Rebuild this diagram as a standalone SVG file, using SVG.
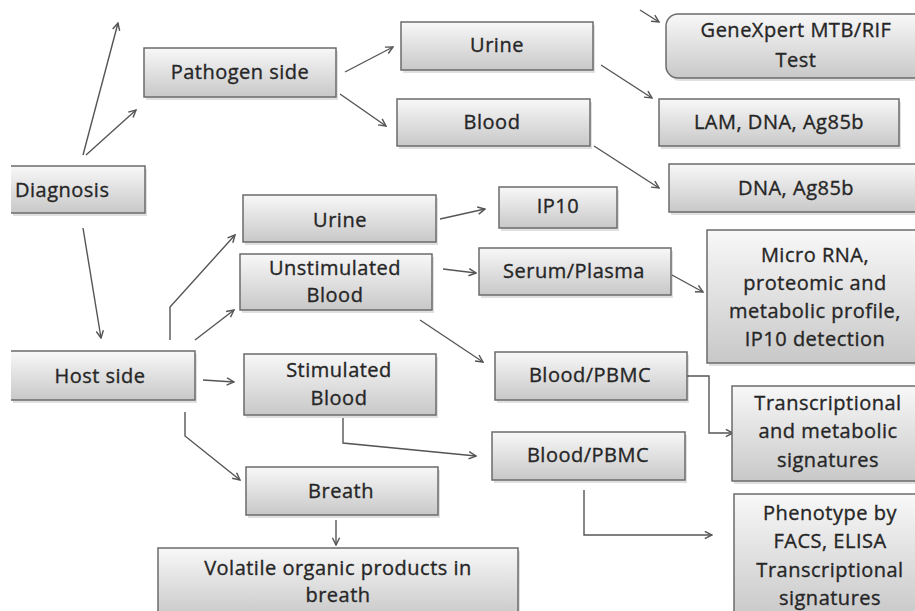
<svg xmlns="http://www.w3.org/2000/svg" width="915" height="611" viewBox="0 0 915 611">
<style>
.bx{fill:url(#g);stroke:#6b6b6b;stroke-width:1.5}
.sh{fill:#000;opacity:0.12}
.nb{fill:url(#g);stroke:none}
.bd{fill:none;stroke:#6b6b6b;stroke-width:1.5}
text{font-family:"Open Sans","Liberation Sans",sans-serif;font-size:20px;fill:#262626;stroke:#262626;stroke-width:0.35;text-anchor:middle;letter-spacing:0.5px}
.c path,.c polyline,.c line{fill:none;stroke:#555;stroke-width:1.4;marker-end:url(#a)}
</style>
<defs>
<linearGradient id="g" x1="0" y1="0" x2="0" y2="1">
<stop offset="0" stop-color="#f8f8f8"/>
<stop offset="1" stop-color="#c8c8c8"/>
</linearGradient>
<marker id="a" viewBox="0 0 10 10" refX="9" refY="5" markerWidth="9" markerHeight="9" markerUnits="userSpaceOnUse" orient="auto">
<path d="M1,1 L9,5 L1,9" fill="none" stroke="#555" stroke-width="1.6"/>
</marker>
</defs>
<rect width="915" height="611" fill="#fff"/>

<g class="c" id="connectors">
<line x1="83" y1="155" x2="118" y2="23"/>
<line x1="86" y1="155" x2="136" y2="110"/>
<line x1="345" y1="72" x2="393" y2="47"/>
<line x1="340" y1="94" x2="386" y2="126"/>
<line x1="640" y1="10" x2="659" y2="22"/>
<line x1="601" y1="65" x2="652" y2="98"/>
<line x1="594" y1="146" x2="659" y2="188"/>
<line x1="83" y1="228" x2="101" y2="338"/>
<polyline points="170,340 170,307 235,235"/>
<line x1="195" y1="340" x2="234" y2="310"/>
<line x1="203" y1="380" x2="234" y2="382"/>
<polyline points="185,412 185,436 240,480"/>
<line x1="336" y1="520" x2="336" y2="545"/>
<line x1="440" y1="219" x2="485" y2="209"/>
<line x1="443" y1="269" x2="476" y2="273"/>
<line x1="672" y1="275" x2="703" y2="292"/>
<line x1="420" y1="320" x2="483" y2="362"/>
<polyline points="687,376 709,376 709,433 733,433"/>
<polyline points="343,418 343,443 476,456"/>
<polyline points="584,490 584,535 712,535"/>
</g>

<g id="n-diagnosis">
<rect class="sh" x="13" y="169" width="134" height="47"/>
<rect class="nb" x="11" y="166" width="134" height="47"/>
<path class="bd" d="M11,166 H145 V213 H11"/>
<text x="15" y="197" style="text-anchor:start">Diagnosis</text>
</g>

<g id="n-pathogen">
<rect class="sh" x="146" y="51" width="192" height="49"/>
<rect class="bx" x="144" y="48" width="192" height="49"/>
<text x="240" y="79">Pathogen side</text>
</g>

<g id="n-p-urine">
<rect class="sh" x="403" y="25" width="192" height="48"/>
<rect class="bx" x="401" y="22" width="192" height="48"/>
<text x="497" y="52">Urine</text>
</g>

<g id="n-p-blood">
<rect class="sh" x="399" y="102" width="193" height="47"/>
<rect class="bx" x="397" y="99" width="193" height="47"/>
<text x="492" y="129">Blood</text>
</g>

<g id="n-genexpert">
<rect class="sh" x="668" y="17" width="270" height="64" rx="12"/>
<rect class="bx" x="666" y="14" width="270" height="64" rx="12"/>
<text x="796" y="37">GeneXpert MTB/RIF</text>
<text x="796" y="67">Test</text>
</g>

<g id="n-lam">
<rect class="sh" x="661" y="102" width="240" height="47"/>
<rect class="bx" x="659" y="99" width="240" height="47"/>
<text x="779" y="129">LAM, DNA, Ag85b</text>
</g>

<g id="n-dna">
<rect class="sh" x="671" y="167" width="260" height="48"/>
<rect class="bx" x="669" y="164" width="260" height="48"/>
<text x="796" y="195">DNA, Ag85b</text>
</g>

<g id="n-h-urine">
<rect class="sh" x="245" y="198" width="193" height="47"/>
<rect class="bx" x="243" y="195" width="193" height="47"/>
<text x="340" y="227">Urine</text>
</g>

<g id="n-ip10">
<rect class="sh" x="501" y="190" width="118" height="41"/>
<rect class="bx" x="499" y="187" width="118" height="41"/>
<text x="558" y="213">IP10</text>
</g>

<g id="n-unstim">
<rect class="sh" x="242" y="257" width="192" height="56"/>
<rect class="bx" x="240" y="254" width="192" height="56"/>
<text x="335" y="275">Unstimulated</text>
<text x="335" y="302">Blood</text>
</g>

<g id="n-serum">
<rect class="sh" x="481" y="251" width="192" height="47"/>
<rect class="bx" x="479" y="248" width="192" height="47"/>
<text x="574" y="278">Serum/Plasma</text>
</g>

<g id="n-microrna">
<rect class="sh" x="709" y="233" width="230" height="133"/>
<rect class="bx" x="707" y="230" width="230" height="133"/>
<text x="815" y="262">Micro RNA,</text>
<text x="815" y="290">proteomic and</text>
<text x="815" y="318">metabolic profile,</text>
<text x="815" y="346">IP10 detection</text>
</g>

<g id="n-host">
<rect class="sh" x="13" y="354" width="184" height="49"/>
<rect class="nb" x="11" y="351" width="184" height="49"/>
<path class="bd" d="M11,351 H195 V400 H11"/>
<text x="100" y="383">Host side</text>
</g>

<g id="n-stim">
<rect class="sh" x="246" y="357" width="192" height="61"/>
<rect class="bx" x="244" y="354" width="192" height="61"/>
<text x="339" y="377">Stimulated</text>
<text x="339" y="405">Blood</text>
</g>

<g id="n-pbmc1">
<rect class="sh" x="497" y="355" width="192" height="48"/>
<rect class="bx" x="495" y="352" width="192" height="48"/>
<text x="590" y="382">Blood/PBMC</text>
</g>

<g id="n-pbmc2">
<rect class="sh" x="494" y="435" width="193" height="48"/>
<rect class="bx" x="492" y="432" width="193" height="48"/>
<text x="588" y="462">Blood/PBMC</text>
</g>

<g id="n-transcr">
<rect class="sh" x="734" y="389" width="200" height="95"/>
<rect class="bx" x="732" y="386" width="200" height="95"/>
<text x="828" y="410">Transcriptional</text>
<text x="828" y="438">and metabolic</text>
<text x="828" y="467">signatures</text>
</g>

<g id="n-breath">
<rect class="sh" x="248" y="470" width="192" height="48"/>
<rect class="bx" x="246" y="467" width="192" height="48"/>
<text x="341" y="498">Breath</text>
</g>

<g id="n-volatile">
<rect class="sh" x="160" y="551" width="360" height="70"/>
<rect class="bx" x="158" y="548" width="360" height="70"/>
<text x="338" y="575">Volatile organic products  in</text>
<text x="338" y="602">breath</text>
</g>

<g id="n-phenotype">
<rect class="sh" x="736" y="497" width="200" height="125"/>
<rect class="bx" x="734" y="494" width="200" height="125"/>
<text x="830" y="520">Phenotype by</text>
<text x="830" y="548">FACS, ELISA</text>
<text x="830" y="577">Transcriptional</text>
<text x="830" y="605">signatures</text>
</g>
</svg>
